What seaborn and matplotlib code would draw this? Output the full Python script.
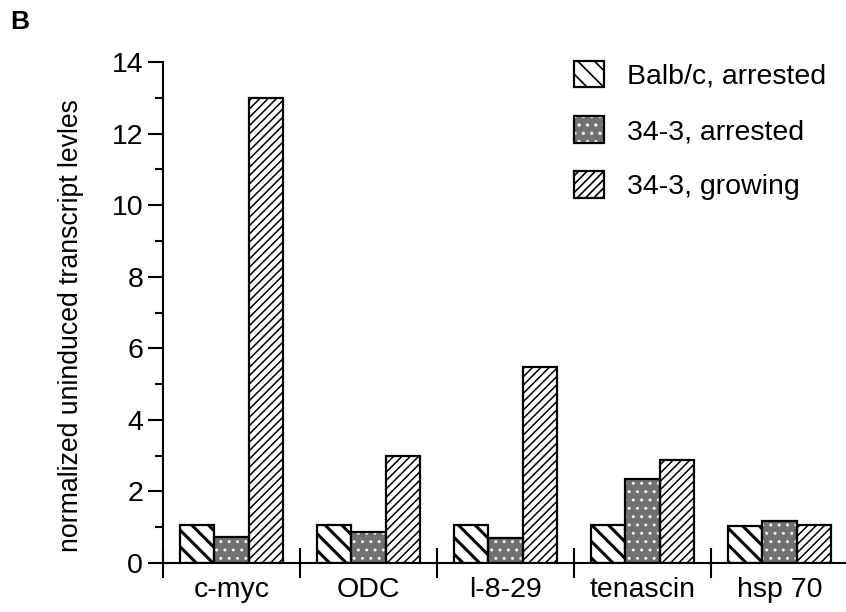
import matplotlib
matplotlib.use("Agg")
import matplotlib.pyplot as plt
import seaborn as sns
import pandas as pd
from matplotlib.patches import Patch, Rectangle
from matplotlib.legend_handler import HandlerTuple
from matplotlib.ticker import MultipleLocator, FixedLocator

genes = ["c-myc", "ODC", "l-8-29", "tenascin", "hsp 70"]
series = ["Balb/c, arrested", "34-3, arrested", "34-3, growing"]
balb_arrested = [1.05, 1.05, 1.05, 1.05, 1.02]
arrested_343 = [0.73, 0.86, 0.71, 2.36, 1.18]
growing_343 = [13.0, 3.0, 5.47, 2.87, 1.07]
ylabel = "normalized uninduced transcript levles"
panel = "B"

rows = []
for s, vals in zip(series, [balb_arrested, arrested_343, growing_343]):
    for g, v in zip(genes, vals):
        rows.append({"gene": g, "series": s, "value": v})
df = pd.DataFrame(rows)

sns.set_theme(style="ticks")
plt.rcParams["font.family"] = ["Liberation Sans", "DejaVu Sans"]
plt.rcParams["text.color"] = "black"
plt.rcParams["xtick.color"] = "black"
plt.rcParams["ytick.color"] = "black"
plt.rcParams["axes.labelcolor"] = "black"
plt.rcParams["hatch.linewidth"] = 1.2

FS = 20.5
EDGE_LW = 1.6
GRAY = "#707070"
DOT = "#f0f0f0"

fig = plt.figure(figsize=(8.46, 6.12), dpi=100)
ax = fig.add_axes([163 / 846, 1 - 563 / 612, (848 - 163) / 846, (563 - 62) / 612])

sns.barplot(data=df, x="gene", y="value", hue="series", order=genes,
            hue_order=series, width=0.75, ax=ax, legend=False,
            palette=["white", "white", "white"], saturation=1)

styles = [
    dict(face="white", hatch="\\\\", edge="black", hlw=2.2),
    dict(face=GRAY, hatch="..", edge=DOT, hlw=1.0),
    dict(face="white", hatch="////", edge="black", hlw=1.1),
]


def style_patch(p, st):
    p.set_facecolor(st["face"])
    p.set_hatch(st["hatch"])
    if hasattr(p, "set_hatch_linewidth"):
        p.set_hatch_linewidth(st["hlw"])
    p.set_edgecolor(st["edge"])
    if st["edge"] == DOT:
        p.set_linewidth(0)
    else:
        p.set_linewidth(EDGE_LW)


for cont, st in zip(ax.containers, styles):
    for p in list(cont):
        style_patch(p, st)
        if st["edge"] == DOT:
            outline = Rectangle((p.get_x(), p.get_y()), p.get_width(), p.get_height(),
                                facecolor="none", edgecolor="black", linewidth=EDGE_LW,
                                zorder=3)
            ax.add_patch(outline)

ax.set_xlim(-0.5, 4.5)
ax.set_ylim(0, 14)
sns.despine(ax=ax)
for sp in ["left", "bottom"]:
    ax.spines[sp].set_linewidth(1.5)
    ax.spines[sp].set_color("black")
    ax.spines[sp].set_zorder(5)

ax.yaxis.set_major_locator(MultipleLocator(2))
ax.yaxis.set_minor_locator(MultipleLocator(1))
ax.tick_params(axis="y", which="major", length=10.8, width=1.5, labelsize=FS, pad=3.5)
ax.tick_params(axis="y", which="minor", length=5.8, width=1.5)

ax.set_xticks(range(len(genes)))
ax.set_xticklabels(genes)
ax.tick_params(axis="x", which="major", length=0, labelsize=FS, pad=10)
ax.xaxis.set_minor_locator(FixedLocator([i - 0.5 for i in range(len(genes))]))
ax.tick_params(axis="x", which="minor", length=21, width=1.5, direction="inout")

ax.set_xlabel("")
ax.set_ylabel(ylabel, fontsize=19.2)
ax.yaxis.set_label_coords(-0.115, 0.473)

h0 = Patch(facecolor="white", edgecolor="black", hatch="\\\\", linewidth=EDGE_LW)
h1a = Patch(facecolor=GRAY, edgecolor=DOT, hatch="..", linewidth=0)
h1b = Patch(facecolor="none", edgecolor="black", linewidth=EDGE_LW)
h2 = Patch(facecolor="white", edgecolor="black", hatch="////", linewidth=EDGE_LW)
fig.legend([h0, (h1a, h1b), h2], series, loc="upper left",
           bbox_to_anchor=(574 / 846, 1 - 61 / 612), bbox_transform=fig.transFigure,
           frameon=False, fontsize=FS, handlelength=1.05, handleheight=1.05,
           labelspacing=0.92, handletextpad=0.8, borderpad=0, borderaxespad=0,
           handler_map={tuple: HandlerTuple(ndivide=1, pad=0)})

fig.text(10 / 846, 1 - 10 / 612, panel, fontsize=19, fontweight="bold", va="top", ha="left")

fig.savefig("out.png", dpi=100)
